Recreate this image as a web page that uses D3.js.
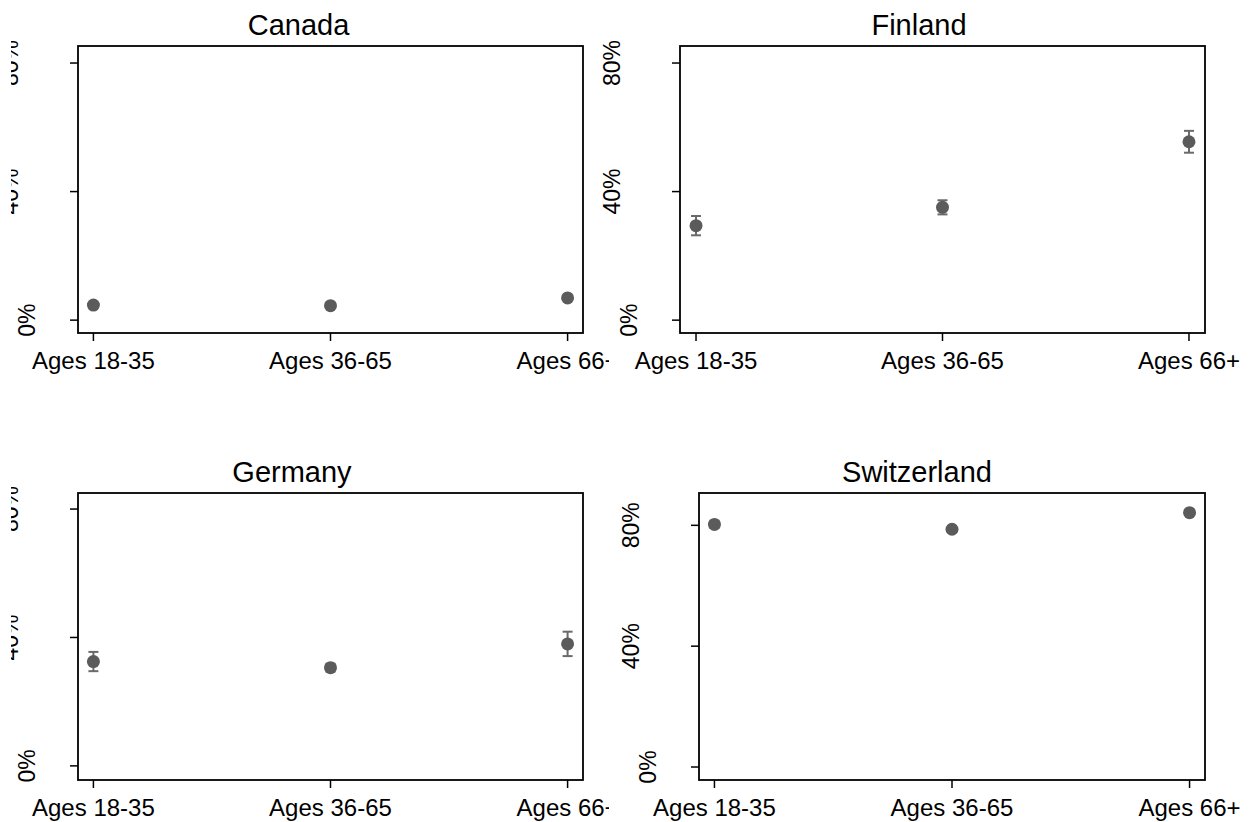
<!DOCTYPE html>
<meta charset="utf-8">
<style>
  body { margin: 0; background: #fff; }
  text { font-family: "Liberation Sans", Arial, sans-serif; fill: #000; }
</style>
<svg width="1250" height="822"></svg>
<script src="https://d3js.org/d3.v7.min.js"></script>
<script>
// categories
var ageGroups = ["Ages 18-35", "Ages 36-65", "Ages 66+"]
var countries = ["Canada", "Finland", "Germany", "Switzerland"]
var yTicks = [0, 40, 80]

// point estimates (%) and half-width of the 95% interval, per country
var canadaValues = [4.7, 4.5, 6.9]
var canadaErr = [0.4, 0.4, 0.5]
var finlandValues = [29.4, 35.1, 55.5]
var finlandErr = [3.0, 2.2, 3.4]
var germanyValues = [32.5, 30.6, 38.0]
var germanyErr = [3.0, 1.2, 3.8]
var switzerlandValues = [80.3, 78.7, 84.2]
var switzerlandErr = [1.2, 0.8, 0.8]

var seriesValues = [canadaValues, finlandValues, germanyValues, switzerlandValues]
var seriesErr = [canadaErr, finlandErr, germanyErr, switzerlandErr]

// y ranges each panel was drawn with
var yDomains = [[-4.0, 85.3], [-4.0, 85.3], [-4.4, 85.0], [-4.3, 90.7]]

// panel boxes; region = whole graph area the title is centred on
var panels = [
  { left: 78, right: 583, top: 46, bottom: 333, region: [0, 597], clip: [11, 609] },
  { left: 680, right: 1205, top: 46, bottom: 333, region: [622, 1216], clip: null },
  { left: 78, right: 583, top: 493, bottom: 780, region: [0, 584], clip: [11, 609] },
  { left: 699, right: 1205, top: 493, bottom: 780, region: [622, 1212], clip: null }
]

var svg = d3.select('svg')
var defs = svg.append('defs')
var dotColor = '#5b5b5b'
var barColor = '#6a6a6a'

panels.forEach(function (p, i) {
  var x = d3.scalePoint().domain(ageGroups).range([p.left, p.right]).padding(0.065)
  var y = d3.scaleLinear().domain(yDomains[i]).range([p.bottom, p.top])

  var g = svg.append('g')
  if (p.clip) {
    defs.append('clipPath').attr('id', 'clip' + i)
      .append('rect').attr('x', p.clip[0]).attr('y', p.top - 60)
      .attr('width', p.clip[1] - p.clip[0]).attr('height', p.bottom - p.top + 120)
    g.attr('clip-path', 'url(#clip' + i + ')')
  }

  // title
  g.append('text')
    .attr('x', (p.region[0] + p.region[1]) / 2)
    .attr('y', p.top - 11)
    .attr('text-anchor', 'middle')
    .attr('font-size', 29)
    .text(countries[i])

  // y axis ticks and rotated labels
  yTicks.forEach(function (t) {
    g.append('line')
      .attr('x1', p.left - 8).attr('x2', p.left)
      .attr('y1', y(t)).attr('y2', y(t))
      .attr('stroke', '#000').attr('stroke-width', 1.5)
    var lbl = t + '%'
    var bx = p.left - (lbl.length === 2 ? 43 : 60)
    g.append('text')
      .attr('transform', 'translate(' + bx + ',' + y(t) + ') rotate(-90)')
      .attr('text-anchor', 'middle')
      .attr('font-size', 23)
      .text(lbl)
  })

  // x axis ticks and labels
  ageGroups.forEach(function (a) {
    g.append('line')
      .attr('x1', x(a)).attr('x2', x(a))
      .attr('y1', p.bottom).attr('y2', p.bottom + 8)
      .attr('stroke', '#000').attr('stroke-width', 1.5)
    g.append('text')
      .attr('x', x(a)).attr('y', p.bottom + 36)
      .attr('text-anchor', 'middle')
      .attr('font-size', 24)
      .text(a)
  })

  // box
  g.append('rect')
    .attr('x', p.left).attr('y', p.top)
    .attr('width', p.right - p.left).attr('height', p.bottom - p.top)
    .attr('fill', 'none').attr('stroke', '#000').attr('stroke-width', 1.8)

  // error bars
  var vals = seriesValues[i], errs = seriesErr[i]
  ageGroups.forEach(function (a, k) {
    var lo = y(vals[k] - errs[k]), hi = y(vals[k] + errs[k]), cx = x(a)
    g.append('line').attr('x1', cx).attr('x2', cx).attr('y1', lo).attr('y2', hi)
      .attr('stroke', barColor).attr('stroke-width', 2)
    ;[lo, hi].forEach(function (yy) {
      g.append('line').attr('x1', cx - 5).attr('x2', cx + 5).attr('y1', yy).attr('y2', yy)
        .attr('stroke', barColor).attr('stroke-width', 2)
    })
    g.append('circle').attr('cx', cx).attr('cy', y(vals[k])).attr('r', 6.5)
      .attr('fill', dotColor)
  })
})
</script>
